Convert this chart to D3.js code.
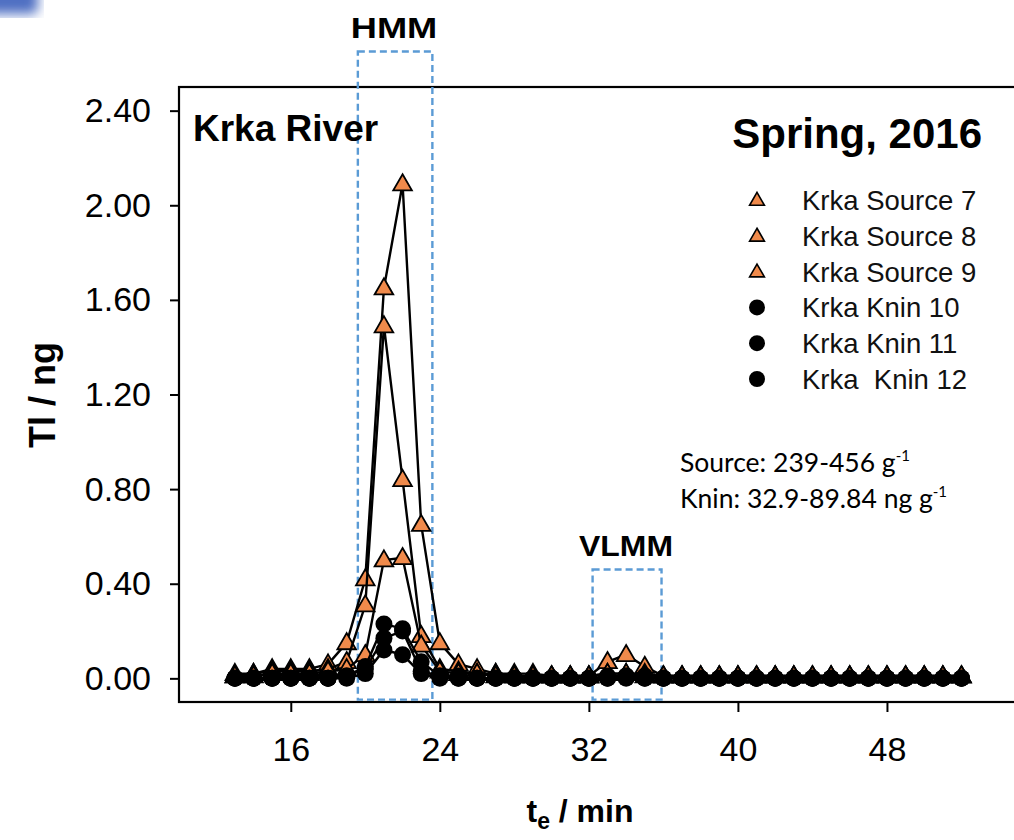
<!DOCTYPE html>
<html>
<head>
<meta charset="utf-8">
<script src="https://cdn.jsdelivr.net/npm/d3@7"></script>
<style>
  body { margin: 0; background: #fff; }
  svg { display: block; font-family: "Liberation Sans", Arial, sans-serif; }
</style>
</head>
<body>
<div id="chart"></div>
<script>
// elution time, min
const times = [13,14,15,16,17,18,19,20,21,22,23,24,25,26,27,28,29,30,31,32,33,34,35,36,37,38,39,40,41,42,43,44,45,46,47,48,49,50,51,52];

// Tl / ng, source samples (triangles)
const source7 = [0.02,0.02,0.04,0.04,0.04,0.06,0.15,0.42,1.65,2.09,0.65,0.15,0.06,0.04,0.02,0.02,0.02,0.01,0.01,0.01,0.07,0.10,0.05,0.01,0.01,0.01,0.01,0.01,0.01,0.01,0.01,0.01,0.01,0.01,0.01,0.01,0.01,0.01,0.01,0.01];
const source8 = [0.01,0.02,0.03,0.03,0.03,0.04,0.07,0.31,1.49,0.84,0.18,0.04,0.03,0.02,0.02,0.01,0.01,0.01,0.01,0.01,0.02,0.02,0.02,0.01,0.01,0.01,0.01,0.01,0.01,0.01,0.01,0.01,0.01,0.01,0.01,0.01,0.01,0.01,0.01,0.01];
const source9 = [0.01,0.01,0.02,0.02,0.02,0.03,0.04,0.10,0.50,0.51,0.14,0.03,0.02,0.02,0.01,0.01,0.01,0.01,0.01,0.01,0.02,0.02,0.01,0.01,0.01,0.01,0.01,0.01,0.01,0.01,0.01,0.01,0.01,0.01,0.01,0.01,0.01,0.01,0.01,0.01];

// Tl / ng, Knin samples (circles)
const knin10 = [0,0,0,0,0,0,0.01,0.05,0.23,0.21,0.07,0.01,0.01,0,0,0,0,0,0,0,0.01,0.01,0.01,0,0,0,0,0,0,0,0,0,0,0,0,0,0,0,0,0];
const knin11 = [0,0,0,0,0,0,0.01,0.04,0.17,0.20,0.03,0.01,0,0,0,0,0,0,0,0,0,0.01,0,0,0,0,0,0,0,0,0,0,0,0,0,0,0,0,0,0];
const knin12 = [0,0,0,0,0,0,0,0.02,0.12,0.10,0.02,0,0,0,0,0,0,0,0,0,0,0,0,0,0,0,0,0,0,0,0,0,0,0,0,0,0,0,0,0];

const seriesNames = ["Krka Source 7","Krka Source 8","Krka Source 9","Krka Knin 10","Krka Knin 11","Krka  Knin 12"];
const seriesValues = [source7, source8, source9, knin10, knin11, knin12];
const seriesShapes = ["tri","tri","tri","dot","dot","dot"];

const yTicks = [0, 0.4, 0.8, 1.2, 1.6, 2.0, 2.4];
const xTicks = [16, 24, 32, 40, 48];

// highlighted regions [t from, t to, Tl top, Tl bottom]
const hmmBox = [19.6, 23.6, 2.65, -0.09];
const vlmmBox = [32.2, 35.9, 0.46, -0.09];

const width = 1014, height = 840;
const svg = d3.select("#chart").append("svg")
    .attr("width", width).attr("height", height);

const defs = svg.append("defs");
defs.append("filter").attr("id", "blur")
  .append("feGaussianBlur").attr("stdDeviation", 6);

// little blue shape peeking in the corner
svg.append("rect")
    .attr("x", -20).attr("y", -20).attr("width", 58).attr("height", 34)
    .attr("rx", 6)
    .attr("fill", "#4f6fc2")
    .attr("filter", "url(#blur)");

const x = d3.scaleLinear().domain([10, 56]).range([179, 1036]);
const y = d3.scaleLinear().domain([-0.1, 2.5]).range([702, 87]);

// frame
svg.append("rect")
    .attr("x", x(10)).attr("y", y(2.5))
    .attr("width", x(56) - x(10)).attr("height", y(-0.1) - y(2.5))
    .attr("fill", "none").attr("stroke", "#000").attr("stroke-width", 2.2);

const yAxis = svg.append("g")
    .attr("transform", `translate(${x(10)},0)`)
    .call(d3.axisLeft(y).tickValues(yTicks).tickFormat(d3.format(".2f"))
      .tickSize(9).tickSizeOuter(0).tickPadding(19));
const xAxis = svg.append("g")
    .attr("transform", `translate(0,${y(-0.1)})`)
    .call(d3.axisBottom(x).tickValues(xTicks)
      .tickSize(10).tickSizeOuter(0).tickPadding(25));

[yAxis, xAxis].forEach(a => {
  a.select(".domain").remove();
  a.selectAll("line").attr("stroke", "#000").attr("stroke-width", 2);
  a.selectAll("text").attr("font-size", 34).attr("fill", "#000")
    .attr("font-family", "Liberation Sans, Arial, sans-serif");
});

// dashed boxes
function box(b) {
  svg.append("rect")
      .attr("x", x(b[0])).attr("y", y(b[2]))
      .attr("width", x(b[1]) - x(b[0])).attr("height", y(b[3]) - y(b[2]))
      .attr("fill", "none")
      .attr("stroke", "#5b9bd5").attr("stroke-width", 2.4)
      .attr("stroke-dasharray", "7,4");
}
box(hmmBox);
box(vlmmBox);

const triangle = d3.symbol().type(d3.symbolTriangle).size(150);
const line = d3.line().x((d, i) => x(times[i])).y(d => y(d));

seriesValues.forEach((vals, k) => {
  const g = svg.append("g");
  g.append("path")
      .attr("d", line(vals))
      .attr("fill", "none").attr("stroke", "#000").attr("stroke-width", 2.4);
  if (seriesShapes[k] === "tri") {
    g.selectAll("path.pt").data(vals).enter().append("path")
        .attr("class", "pt")
        .attr("d", triangle)
        .attr("transform", (d, i) => `translate(${x(times[i])},${y(d) + 1})`)
        .attr("fill", "#f08a4b").attr("stroke", "#000").attr("stroke-width", 1.8);
  } else {
    g.selectAll("circle").data(vals).enter().append("circle")
        .attr("cx", (d, i) => x(times[i]))
        .attr("cy", d => y(d))
        .attr("r", 8.5)
        .attr("fill", "#000");
  }
});

// titles
svg.append("text").attr("x", 193).attr("y", 141)
    .attr("font-size", 37).attr("font-weight", "bold").text("Krka River");
svg.append("text").attr("x", 982).attr("y", 148)
    .attr("text-anchor", "end")
    .attr("font-size", 42).attr("font-weight", "bold").text("Spring, 2016");
svg.append("text")
    .attr("transform", "translate(394,38) scale(1.25,1)")
    .attr("text-anchor", "middle")
    .attr("font-size", 29).attr("font-weight", "bold").text("HMM");
svg.append("text")
    .attr("transform", "translate(626,556) scale(1.1,1)")
    .attr("text-anchor", "middle")
    .attr("font-size", 29).attr("font-weight", "bold").text("VLMM");

// axis titles
svg.append("text")
    .attr("transform", "translate(55,395) rotate(-90)")
    .attr("text-anchor", "middle")
    .attr("font-size", 36).attr("font-weight", "bold").text("Tl / ng");
const xt = svg.append("text").attr("x", 580).attr("y", 822)
    .attr("text-anchor", "middle")
    .attr("font-size", 32).attr("font-weight", "bold");
xt.append("tspan").text("t");
xt.append("tspan").attr("font-size", 23).attr("dy", 7).text("e");
xt.append("tspan").attr("dy", -7).text(" / min");

// legend
const legend = svg.append("g");
seriesNames.forEach((name, k) => {
  const ly = 200 + k * 35.8;
  if (seriesShapes[k] === "tri") {
    legend.append("path")
        .attr("d", d3.symbol().type(d3.symbolTriangle).size(95))
        .attr("transform", `translate(757,${ly + 1})`)
        .attr("fill", "#f08a4b").attr("stroke", "#000").attr("stroke-width", 1.6);
  } else {
    legend.append("circle").attr("cx", 757).attr("cy", ly).attr("r", 8).attr("fill", "#000");
  }
  legend.append("text").attr("x", 802).attr("y", ly + 10)
      .attr("font-size", 27.5).attr("fill", "#111")
      .style("white-space", "pre").text(name);
});

// concentration note
const note = svg.append("g").attr("font-family", "Lato, 'Open Sans', sans-serif").attr("font-size", 26.5);
const n1 = note.append("text").attr("x", 680).attr("y", 472);
n1.append("tspan").text("Source: 239-456 g");
n1.append("tspan").attr("font-size", 15).attr("dy", -11).text("-1");
const n2 = note.append("text").attr("x", 680).attr("y", 508);
n2.append("tspan").text("Knin: 32.9-89.84 ng g");
n2.append("tspan").attr("font-size", 15).attr("dy", -11).text("-1");
</script>
</body>
</html>
